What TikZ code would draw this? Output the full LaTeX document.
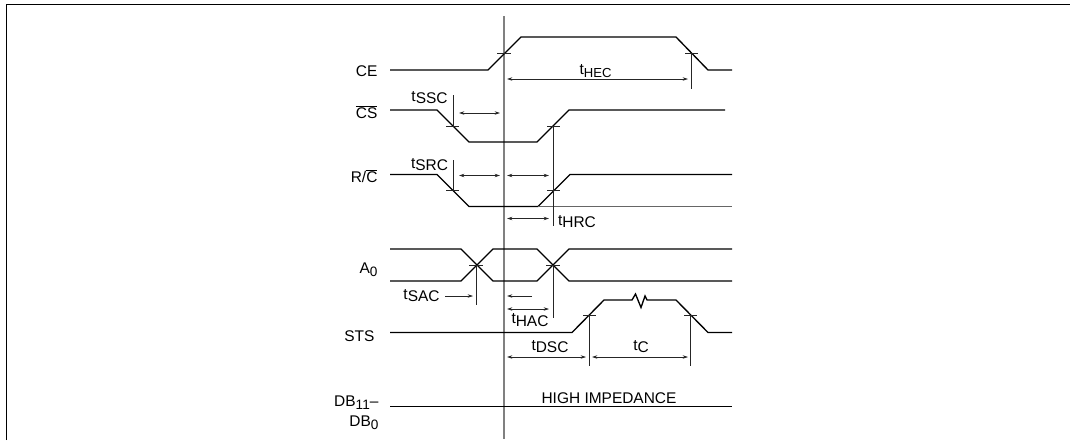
\documentclass[tikz,border=0pt]{standalone}
\usepackage{fontspec}
\setmainfont{Liberation Sans}
\usepackage{tikz}
\usetikzlibrary{arrows.meta}
\newcommand{\tlab}[1]{t\raisebox{-1.6pt}{#1}}
\newcommand{\tsmall}[1]{t\raisebox{-2pt}{\fontsize{9.8}{11}\selectfont #1}}
\newcommand{\lowtxt}[1]{\raisebox{-2.2pt}{\fontsize{10.2}{11}\selectfont #1}}
\tikzset{every picture/.style={line width=0.85pt},
  sig/.style={black,line width=1pt},
  thinline/.style={black!85,line width=0.55pt},
  tim/.style={black!85,line width=0.5pt,{Stealth[length=4pt,width=2.6pt]}-{Stealth[length=4pt,width=2.6pt]}},
  timr/.style={black!85,line width=0.5pt,-{Stealth[length=4pt,width=2.6pt]}},
  siglabel/.style={anchor=east,inner sep=0pt,font=\fontsize{11.6}{13}\selectfont},
  tlabel/.style={anchor=center,inner sep=0pt,font=\fontsize{11.6}{13}\selectfont}}

\begin{document}
\begin{tikzpicture}[x=0.75pt,y=-0.75pt]
\useasboundingbox (0,0) rectangle (1070,440);
% frame
\draw[line width=1pt] (6.5,440) -- (6.5,4.5) -- (1070,4.5);
% reference line
\draw[gray,line width=0.9pt] (504,16) -- (504,439);
% signals
\draw[sig] (390,70) -- (488,70) -- (521,37) -- (676,37) -- (708,70) -- (732,70);
\draw[sig] (390,110) -- (437,110) -- (469,142) -- (537,142) -- (569,110) -- (725,110);
\draw[sig] (390,174.5) -- (437,174.5) -- (469,206.5) -- (538,206.5) -- (570,174.5) -- (732,174.5);
\draw[black!60,line width=0.8pt] (538,206.5) -- (732,206.5);
\draw[sig] (390,249) -- (461,249) -- (493,281) -- (537,281) -- (569,249) -- (732,249);
\draw[sig] (390,281) -- (461,281) -- (493,249) -- (537,249) -- (569,281) -- (732,281);
\draw[sig] (390,332.5) -- (572,332.5) -- (604,300) -- (632,300) -- (635.5,294) -- (641,307.5) -- (645,296) -- (647,300) -- (676,300) -- (708,332.5) -- (732,332.5);
\draw[sig] (390,406.5) -- (732,406.5);
% ticks
\draw[thinline] (497,53) -- (511,53);
\draw[thinline] (685,53) -- (698,53) (691.5,53) -- (691.5,89);
\draw[thinline] (446,126.5) -- (459,126.5) (453,95) -- (453,126.5);
\draw[thinline] (547,126) -- (560,126) (553,126) -- (553,226);
\draw[thinline] (446,190.5) -- (459,190.5) (453,160) -- (453,190.5);
\draw[thinline] (547,190.5) -- (560,190.5);
\draw[thinline] (469,265) -- (483,265) (476,265) -- (476,305);
\draw[thinline] (546,265) -- (560,265) (553,265) -- (553,318);
\draw[thinline] (583,315) -- (596,315) (589,315) -- (589,366);
\draw[thinline] (684,315) -- (697,315) (690.5,315) -- (690.5,366);
% arrows
\draw[tim] (507,79) -- (688,79);
\draw[tim] (459,113) -- (500,113);
\draw[tim] (459,175.5) -- (500,175.5);
\draw[tim] (507,175.5) -- (549,175.5);
\draw[tim] (507,218.5) -- (549,218.5);
\draw[timr] (445,296) -- (473,296);
\draw[timr] (532,296) -- (507,296);
\draw[tim] (507,309) -- (549,309);
\draw[tim] (507,357) -- (586,357);
\draw[tim] (592,357) -- (688,357);
% labels
\node[siglabel] (ce) at (378,71) {CE};
\node[siglabel] (cs) at (378,112) {$\overline{\mbox{CS}}$};
\node[siglabel] (rc) at (378,176) {R/$\overline{\mbox{C}}$};
\node[siglabel] (azero) at (378,270) {A\lowtxt{0}};
\node[siglabel] (sts) at (375,336) {STS};
\node[siglabel] (dbhi) at (379,403) {DB\lowtxt{11}--};
\node[siglabel] (dblo) at (379,423) {DB\lowtxt{0}};
\node[tlabel] (thec) at (595.5,71) {\tsmall{HEC}};
\node[tlabel] (tssc) at (429.5,98) {\tlab{SSC}};
\node[tlabel] (tsrc) at (429.5,165) {\tlab{SRC}};
\node[tlabel] (thrc) at (577,222) {\tlab{HRC}};
\node[tlabel] (tsac) at (421.5,296) {\tlab{SAC}};
\node[tlabel] (thac) at (530,320) {\tlab{HAC}};
\node[tlabel] (tdsc) at (550,347) {\tlab{DSC}};
\node[tlabel] (tc) at (641,347) {\tlab{C}};
\node[tlabel] (himp) at (609,398) {HIGH IMPEDANCE};
\end{tikzpicture}
\end{document}
